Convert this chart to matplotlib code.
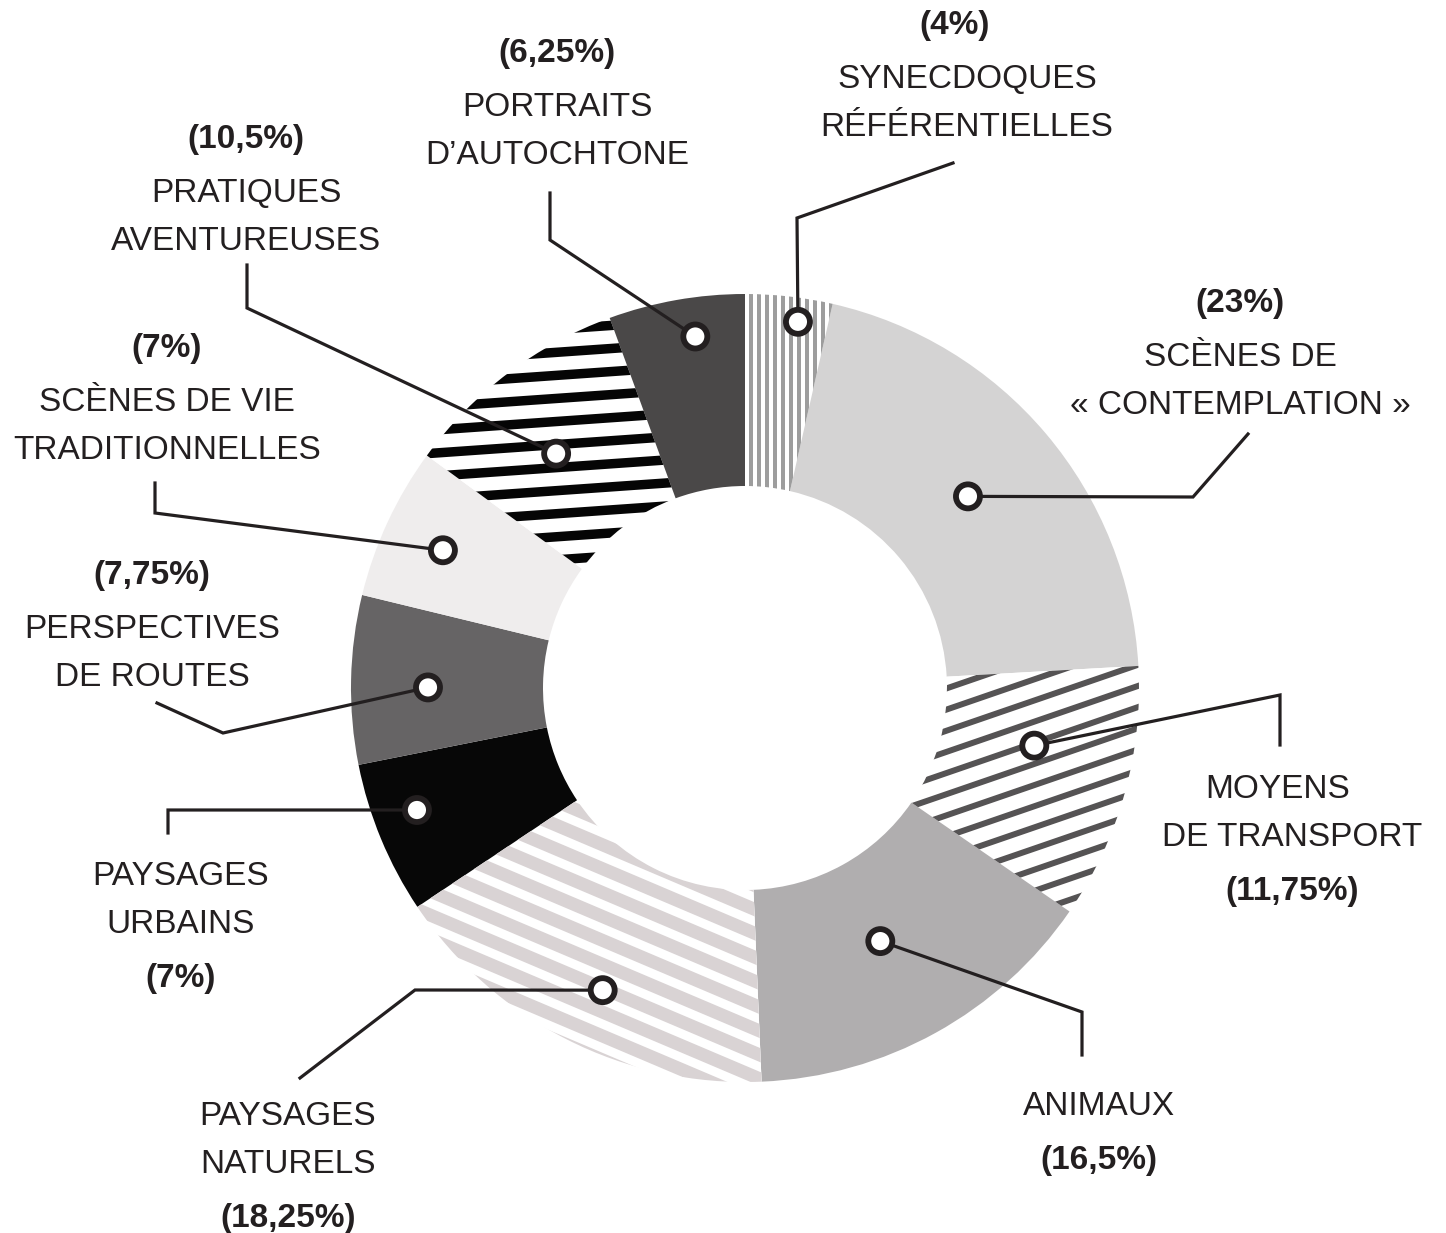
import numpy as np
import matplotlib
matplotlib.use('Agg')
import matplotlib.pyplot as plt
from matplotlib.collections import LineCollection
from matplotlib.patches import Circle

plt.rcParams['font.family'] = ['Liberation Sans', 'DejaVu Sans']

# Répartition des thèmes (en %, lue dans le sens horaire depuis midi)
categories = [
    ['SYNECDOQUES', 'RÉFÉRENTIELLES'],
    ['SCÈNES DE', '« CONTEMPLATION »'],
    ['MOYENS', 'DE TRANSPORT'],
    ['ANIMAUX'],
    ['PAYSAGES', 'NATURELS'],
    ['PAYSAGES', 'URBAINS'],
    ['PERSPECTIVES', 'DE ROUTES'],
    ['SCÈNES DE VIE', 'TRADITIONNELLES'],
    ['PRATIQUES', 'AVENTUREUSES'],
    ['PORTRAITS', 'D\u2019AUTOCHTONE'],
]
shares = [4, 23, 11.75, 16.5, 18.25, 7, 7.75, 7, 10.5, 6.25]

# remplissage : couleur unie, ou rayures (angle, pas, épaisseur, couleur)
fills = ['white', '#d4d3d3', 'white', '#b0aeaf', 'white',
         '#070707', '#666465', '#efeded', 'white', '#4a4848']
stripes = {
    0: (90, 8, 4, '#9d9d9d'),
    2: (19, 20, 6, '#555354'),
    4: (-23, 22, 13, '#d9d3d4'),
    8: (4, 23, 9.5, '#050505'),
}

# mise en page (pixels) : point repère (rayon, décalage angulaire),
# coudes des traits de rappel, position des étiquettes
marker_place = [(370, -1.8), (294, 0.5), (295, 4.4), (287, -0.8), (334, 1.7),
                (350, -2.1), (317, 1.1), (332, 0.4), (301, 1.9), (355, -2.0)]
leaders = [
    [(797, 218), (953, 163)],
    [(1193, 497), (1248, 434)],
    [(1280, 695), (1280, 745)],
    [(1082, 1012), (1082, 1055)],
    [(415, 990), (300, 1078)],
    [(168, 810), (168, 833)],
    [(223, 733), (157, 703)],
    [(155, 513), (155, 483)],
    [(247, 308), (247, 265)],
    [(550, 240), (550, 193)],
]
# (x, y du haut, pourcentage en tête ?, décalage x de la 1re ligne)
label_place = [(967, 22, True, -12), (1240, 300, True, 0),
               (1292, 786, False, -14), (1099, 1103, False, 0),
               (288, 1113, False, 0), (181, 873, False, 0),
               (152, 572, True, 0), (167, 345, True, 0),
               (246, 136, True, 0), (557, 50, True, 0)]

W, H = 1446, 1233
CX, CY, R, RIN = 745, 688, 394, 202
INK = '#231f20'

fig = plt.figure(figsize=(W / 100, H / 100), dpi=100)
ax = fig.add_axes([0, 0, 1, 1])

wedges, _ = ax.pie(shares, center=(CX, CY), radius=R, startangle=-90,
                   counterclock=True, colors=fills,
                   wedgeprops=dict(width=R - RIN, linewidth=0))
ax.set_xlim(0, W)
ax.set_ylim(H, 0)
ax.set_aspect('equal')
ax.axis('off')


def add_stripes(wedge, angle, period, width, color):
    th = np.deg2rad(angle)
    d = np.array([np.cos(th), -np.sin(th)])
    n = np.array([-d[1], d[0]])
    segs = []
    for o in np.arange(-R - period, R + period, period):
        p = np.array([CX, CY]) + o * n
        segs.append([p - R * 1.2 * d, p + R * 1.2 * d])
    lc = LineCollection(segs, colors=color, linewidths=width * 0.72,
                        capstyle='butt', zorder=2)
    lc.set_clip_path(wedge)
    ax.add_collection(lc)


for i, (angle, period, width, color) in stripes.items():
    add_stripes(wedges[i], angle, period, width, color)

for i, w in enumerate(wedges):
    mid = np.deg2rad((w.theta1 + w.theta2) / 2 - marker_place[i][1])
    r = marker_place[i][0]
    mx, my = CX + r * np.cos(mid), CY + r * np.sin(mid)
    pts = [(mx, my)] + leaders[i]
    ax.plot([p[0] for p in pts], [p[1] for p in pts], color=INK, lw=2.3,
            solid_joinstyle='miter', zorder=4)
    ax.add_patch(Circle((mx, my), 12, facecolor='white', edgecolor=INK,
                        linewidth=4.2, zorder=5))

    # étiquette : nom + pourcentage
    x, y, pct_first, dx0 = label_place[i]
    pct = '({:g}%)'.format(shares[i]).replace('.', ',')
    lines = [(t, 'normal') for t in categories[i]]
    if pct_first:
        lines = [(pct, 'bold')] + lines
    else:
        lines = lines + [(pct, 'bold')]
    yy = y
    for k, (t, weight) in enumerate(lines):
        if k > 0:
            yy += 54 if (weight == 'bold' or lines[k - 1][1] == 'bold') else 48
        ax.text(x + (dx0 if k == 0 else 0), yy + 12, t, ha='center',
                va='baseline', fontsize=24, fontweight=weight, color=INK)

fig.savefig('out.png', dpi=100, facecolor='white')
